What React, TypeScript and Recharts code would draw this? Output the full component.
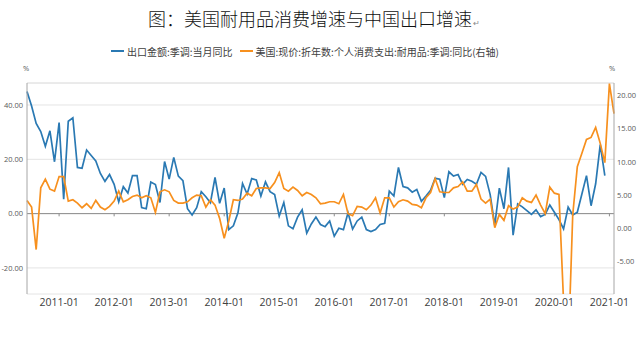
import React from "react";
import { LineChart, Line, XAxis, YAxis, CartesianGrid, ReferenceLine } from "recharts";

// monthly, first point 2010-06
const startYear = 2010;
const startMonth = 6;

// 出口金额:季调:当月同比 (left axis), 2010-06 .. 2020-12
const exportYoY = [
  45.0, 39.6, 33.2, 30.2, 24.8, 30.5, 19.1, 33.5, 5.3, 34.0, 35.3, 17.0,
  16.7, 23.4, 21.4, 19.4, 14.8, 11.9, 14.4, 10.8, 4.3, 9.9, 7.6, 14.0,
  14.0, 2.2, 1.8, 11.6, 10.7, 4.1, 19.2, 12.7, 20.7, 13.8, 12.1, 1.8,
  -0.5, 2.2, 8.1, 6.2, 4.0, 13.3, 3.8, 9.4, -5.9, -4.5, 0.3, 11.1,
  7.2, 12.9, 12.4, 6.5, 11.7, 8.1, 7.0, -0.9, 4.1, -4.5, -5.6, -1.3,
  1.4, -7.2, -3.8, -1.3, -4.0, -4.8, -2.7, -8.3, -5.4, -5.9, 0.3, -5.7,
  -2.7, -1.3, -5.9, -6.6, -5.9, -4.0, -3.6, 8.3, 6.5, 17.0, 10.0, 9.5,
  7.9, 8.9, 4.5, 6.5, 8.6, 13.0, 12.7, 5.9, 15.4, 13.8, 14.4, 10.8,
  12.6, 11.9, 10.8, 15.2, 13.7, 7.0, -4.3, 9.4, 1.8, 17.0, -7.9, 3.6,
  2.5, 1.1, -0.3, 1.4, -1.1, -0.3, 3.2, 0.5, -2.2, -5.6, 2.4, -0.5,
  0.5, 7.2, 14.0, 2.9, 11.0, 25.4, 14.0,
];

// 美国:现价:折年数:个人消费支出:耐用品:季调:同比 (right axis), 2010-06 .. 2021-02
const durableYoY = [
  4.2, 3.2, -3.2, 6.1, 7.4, 5.9, 5.6, 7.8, 7.8, 4.1, 4.3, 3.8,
  3.1, 3.7, 3.0, 4.2, 3.2, 2.8, 3.3, 4.1, 5.6, 4.0, 4.3, 4.8,
  5.0, 4.6, 4.9, 4.6, 2.4, 5.5, 5.8, 5.5, 4.2, 3.8, 3.8, 4.0,
  4.6, 5.0, 4.9, 3.2, 4.3, 3.5, 1.5, -1.5, 1.1, 4.3, 4.2, 4.4,
  5.3, 4.9, 6.0, 6.1, 6.1, 6.0, 6.9, 8.4, 6.0, 5.6, 6.2, 5.7,
  4.9, 5.4, 5.1, 4.6, 3.7, 3.8, 4.0, 4.0, 3.7, 5.1, 2.2, 1.9,
  3.3, 3.2, 2.8, 3.5, 4.6, 2.3, 4.6, 4.6, 3.2, 4.0, 4.3, 4.1,
  3.6, 3.5, 3.1, 4.6, 5.4, 7.5, 5.5, 5.4, 5.4, 6.1, 6.3, 7.0,
  5.6, 5.6, 6.6, 4.4, 3.8, 4.4, 0.1, 2.1, 1.2, 3.4, 2.9, 3.2,
  4.6, 4.1, 3.9, 5.0, 3.5, 2.2, 6.2, 5.3, 5.1, -11.0, -19.0, 2.0,
  9.3, 11.3, 13.4, 13.7, 15.2, 12.8, 9.9, 21.8, 17.3,
];

const xTickLabels = [
  "2011-01", "2012-01", "2013-01", "2014-01", "2015-01", "2016-01",
  "2017-01", "2018-01", "2019-01", "2020-01", "2021-01",
];
const leftTicks = [-20, 0, 20, 40];
const rightTicks = [-5, 0, 5, 10, 15, 20];
const leftDomain = [-29.6, 48.1];
const rightDomain = [-9.9, 21.9];

const months = durableYoY.map((_, i) => {
  const m = startMonth - 1 + i;
  return `${startYear + Math.floor(m / 12)}-${String((m % 12) + 1).padStart(2, "0")}`;
});

const data = months.map((month, i) => ({
  idx: i,
  month,
  exports: i < exportYoY.length ? exportYoY[i] : null,
  durable: durableYoY[i],
}));

const xTicks = xTickLabels.map((l) => months.indexOf(l));

const BLUE = "#2a79b3";
const ORANGE = "#f7901e";
const cjk = '"Noto Sans CJK SC", "Noto Sans", sans-serif';
const num = '"Open Sans", "Noto Sans", sans-serif';

export default function App() {
  return (
    <div
      style={{
        position: "absolute",
        left: 0,
        top: 0,
        width: 640,
        height: 352,
        background: "#fff",
        overflow: "hidden",
      }}
    >
      <div
        style={{
          position: "absolute",
          left: 148,
          top: 6,
          fontFamily: cjk,
          fontSize: 18,
          fontWeight: 300,
          lineHeight: "24px",
          color: "#111",
          whiteSpace: "nowrap",
        }}
      >
        图：美国耐用品消费增速与中国出口增速
        <span style={{ fontSize: 8, color: "#888", marginLeft: 1 }}>↵</span>
      </div>

      <div
        style={{
          position: "absolute",
          left: 111,
          top: 44,
          height: 14,
          display: "flex",
          alignItems: "center",
          fontFamily: cjk,
          fontSize: 10,
          color: "#404040",
          whiteSpace: "nowrap",
        }}
      >
        <span style={{ width: 13, height: 2, background: BLUE, marginRight: 3 }} />
        <span>出口金额:季调:当月同比</span>
        <span style={{ width: 13, height: 2, background: ORANGE, marginLeft: 7, marginRight: 3 }} />
        <span>美国:现价:折年数:个人消费支出:耐用品:季调:同比(右轴)</span>
      </div>

      <div style={{ position: "absolute", left: 23, top: 63, fontFamily: num, fontSize: 7.5, color: "#595959" }}>%</div>
      <div style={{ position: "absolute", left: 609, top: 63, fontFamily: num, fontSize: 7.5, color: "#595959" }}>%</div>

      <LineChart
        width={640}
        height={352}
        data={data}
        margin={{ top: 83, right: 0, bottom: 29, left: 0 }}
      >
        <CartesianGrid yAxisId="left" vertical={false} stroke="#e4e4e4" />
        <XAxis
          type="number"
          dataKey="idx"
          domain={[0, months.length - 1]}
          ticks={xTicks}
          tickFormatter={(i) => months[i]}
          axisLine={false}
          tickLine={false}
          tickSize={0}
          tickMargin={5}
          height={29}
          tick={{ fontSize: 10.5, fill: "#404040", fontFamily: num }}
        />
        <YAxis
          yAxisId="left"
          domain={leftDomain}
          ticks={leftTicks}
          allowDataOverflow
          width={27}
          tickLine={false}
          tickSize={0}
          tickMargin={4}
          axisLine={{ stroke: "#a6a6a6" }}
          tickFormatter={(v) => v.toFixed(2)}
          tick={{ fontSize: 7.5, fill: "#595959", fontFamily: num }}
        />
        <YAxis
          yAxisId="right"
          orientation="right"
          domain={rightDomain}
          ticks={rightTicks}
          allowDataOverflow
          width={26}
          tickLine={false}
          tickSize={0}
          tickMargin={3}
          axisLine={{ stroke: "#a6a6a6" }}
          tickFormatter={(v) => v.toFixed(2)}
          tick={{ fontSize: 7.5, fill: "#595959", fontFamily: num }}
        />
        <ReferenceLine yAxisId="left" y={leftDomain[1]} stroke="#e4e4e4" />
        <ReferenceLine yAxisId="left" y={0} stroke="#8c8c8c" />
        {xTicks.map((t) => (
          <ReferenceLine
            key={t}
            yAxisId="left"
            segment={[
              { x: t, y: 0 },
              { x: t, y: -1 },
            ]}
            stroke="#8c8c8c"
          />
        ))}
        <Line
          yAxisId="left"
          type="linear"
          dataKey="exports"
          stroke={BLUE}
          strokeWidth={1.7}
          dot={false}
          isAnimationActive={false}
        />
        <Line
          yAxisId="right"
          type="linear"
          dataKey="durable"
          stroke={ORANGE}
          strokeWidth={1.7}
          dot={false}
          isAnimationActive={false}
        />
      </LineChart>
    </div>
  );
}
